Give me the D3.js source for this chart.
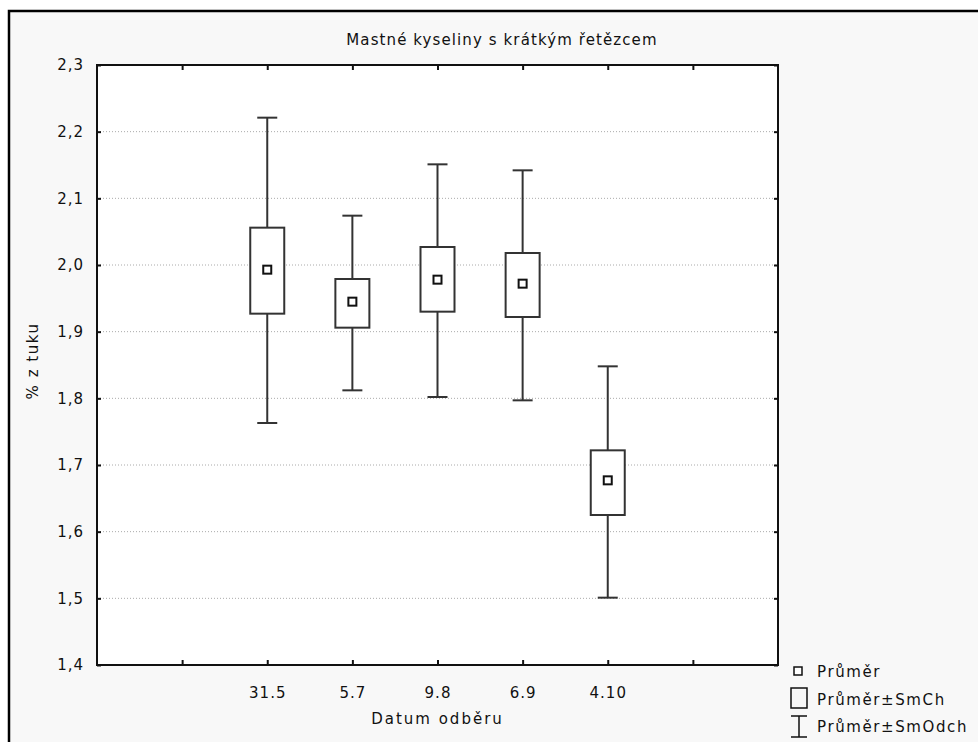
<!DOCTYPE html>
<html>
<head>
<meta charset="utf-8">
<script src="https://cdn.jsdelivr.net/npm/d3@7"></script>
<style>
  html, body { margin: 0; padding: 0; background: #fff; }
  text { font-family: "DejaVu Sans", sans-serif; fill: #111; }
</style>
</head>
<body>
<svg id="chart" width="978" height="742"></svg>
<script>
// Datum odberu (x categories)
const categories = ["31.5", "5.7", "9.8", "6.9", "4.10"];
// Prumer (mean)
const means = [1.993, 1.945, 1.978, 1.972, 1.677];
// Prumer ± SmCh (std. error box)
const seLow = [1.927, 1.906, 1.930, 1.922, 1.625];
const seHigh = [2.056, 1.979, 2.027, 2.018, 1.722];
// Prumer ± SmOdch (std. deviation whiskers)
const sdLow = [1.763, 1.812, 1.802, 1.797, 1.501];
const sdHigh = [2.221, 2.074, 2.151, 2.142, 1.848];
const yTicks = [1.4, 1.5, 1.6, 1.7, 1.8, 1.9, 2.0, 2.1, 2.2, 2.3];
const xTicks = [1, 2, 3, 4, 5, 6, 7];

const svg = d3.select('#chart');
const plot = { left: 97, right: 778, top: 65, bottom: 665 };

// outer frame
svg.append('rect')
  .attr('x', 9).attr('y', 11)
  .attr('width', 1000).attr('height', 800)
  .attr('fill', '#f8f8f8')
  .attr('stroke', '#000')
  .attr('stroke-width', 2.5);

const x = d3.scaleLinear().domain([0, 8]).range([plot.left, plot.right]);
const y = d3.scaleLinear().domain([1.4, 2.3]).range([plot.bottom, plot.top]);

const fmt = v => d3.format('.1f')(v).replace('.', ',');
const catLabel = v => categories[v - 2] || '';

// plot background
svg.append('rect')
  .attr('x', plot.left).attr('y', plot.top)
  .attr('width', plot.right - plot.left).attr('height', plot.bottom - plot.top)
  .attr('fill', '#fff');

// grid lines
svg.append('g')
  .selectAll('line')
  .data(yTicks.slice(1, -1))
  .join('line')
  .attr('x1', plot.left).attr('x2', plot.right)
  .attr('y1', d => y(d)).attr('y2', d => y(d))
  .attr('stroke', '#aaa')
  .attr('stroke-width', 1)
  .attr('stroke-dasharray', '1,2');

// axes (ticks pointing inwards)
const axisStyle = g => {
  g.select('.domain').remove();
  g.selectAll('.tick line').attr('stroke', '#111').attr('stroke-width', 2);
  g.selectAll('.tick text')
    .style('font-size', '15px')
    .style('letter-spacing', '1px')
    .attr('fill', '#111');
};

svg.append('g')
  .attr('transform', `translate(0,${plot.bottom})`)
  .call(d3.axisBottom(x).tickValues(xTicks).tickFormat(catLabel).tickSizeInner(-5).tickSizeOuter(0).tickPadding(22))
  .call(axisStyle);

svg.append('g')
  .attr('transform', `translate(0,${plot.top})`)
  .call(d3.axisTop(x).tickValues(xTicks).tickFormat('').tickSizeInner(-5).tickSizeOuter(0))
  .call(axisStyle);

svg.append('g')
  .attr('transform', `translate(${plot.left},0)`)
  .call(d3.axisLeft(y).tickValues(yTicks).tickFormat(fmt).tickSizeInner(-4).tickSizeOuter(0).tickPadding(13))
  .call(axisStyle);

svg.append('g')
  .attr('transform', `translate(${plot.right},0)`)
  .call(d3.axisRight(y).tickValues(yTicks).tickFormat('').tickSizeInner(-4).tickSizeOuter(0))
  .call(axisStyle);

// plot border
svg.append('rect')
  .attr('x', plot.left).attr('y', plot.top)
  .attr('width', plot.right - plot.left).attr('height', plot.bottom - plot.top)
  .attr('fill', 'none')
  .attr('stroke', '#111')
  .attr('stroke-width', 2);

// box-whisker marks
const rows = categories.map((c, i) => ({
  c, pos: i + 2, mean: means[i],
  lo: seLow[i], hi: seHigh[i], min: sdLow[i], max: sdHigh[i]
}));

const boxW = 34, capW = 20, markW = 8;
const stroke = '#333';
const grp = svg.append('g').selectAll('g').data(rows).join('g');

grp.append('line')
  .attr('x1', d => x(d.pos)).attr('x2', d => x(d.pos))
  .attr('y1', d => y(d.max)).attr('y2', d => y(d.hi))
  .attr('stroke', stroke).attr('stroke-width', 2);
grp.append('line')
  .attr('x1', d => x(d.pos)).attr('x2', d => x(d.pos))
  .attr('y1', d => y(d.lo)).attr('y2', d => y(d.min))
  .attr('stroke', stroke).attr('stroke-width', 2);
grp.append('line')
  .attr('x1', d => x(d.pos) - capW / 2).attr('x2', d => x(d.pos) + capW / 2)
  .attr('y1', d => y(d.max)).attr('y2', d => y(d.max))
  .attr('stroke', stroke).attr('stroke-width', 2);
grp.append('line')
  .attr('x1', d => x(d.pos) - capW / 2).attr('x2', d => x(d.pos) + capW / 2)
  .attr('y1', d => y(d.min)).attr('y2', d => y(d.min))
  .attr('stroke', stroke).attr('stroke-width', 2);
grp.append('rect')
  .attr('x', d => x(d.pos) - boxW / 2)
  .attr('y', d => y(d.hi))
  .attr('width', boxW)
  .attr('height', d => y(d.lo) - y(d.hi))
  .attr('fill', '#fff')
  .attr('stroke', stroke).attr('stroke-width', 2);
grp.append('rect')
  .attr('x', d => x(d.pos) - markW / 2)
  .attr('y', d => y(d.mean) - markW / 2)
  .attr('width', markW).attr('height', markW)
  .attr('fill', '#fff')
  .attr('stroke', '#111').attr('stroke-width', 2);

// titles
svg.append('text')
  .attr('x', 502).attr('y', 45)
  .attr('text-anchor', 'middle')
  .style('font-size', '15px')
  .style('letter-spacing', '1.1px')
  .text('Mastné kyseliny s krátkým řetězcem');

svg.append('text')
  .attr('x', (plot.left + plot.right) / 2).attr('y', 724)
  .attr('text-anchor', 'middle')
  .style('font-size', '15px')
  .style('letter-spacing', '2px')
  .text('Datum odběru');

svg.append('text')
  .attr('transform', `translate(38,${(plot.top + plot.bottom) / 2 - 4}) rotate(-90)`)
  .attr('text-anchor', 'middle')
  .style('font-size', '15px')
  .style('letter-spacing', '1.5px')
  .text('% z tuku');

// legend
const lg = svg.append('g');
const lx = 791;
lg.append('rect').attr('x', lx + 3).attr('y', 667).attr('width', 8).attr('height', 8)
  .attr('fill', '#fff').attr('stroke', '#111').attr('stroke-width', 1.5);
lg.append('rect').attr('x', lx).attr('y', 688).attr('width', 16).attr('height', 20)
  .attr('fill', 'none').attr('stroke', '#111').attr('stroke-width', 1.5);
lg.append('path').attr('d', `M${lx},716H${lx + 16}M${lx + 8},716V737M${lx},737H${lx + 16}`)
  .attr('fill', 'none').attr('stroke', '#111').attr('stroke-width', 1.5);
const legendLabels = ['Průměr', 'Průměr±SmCh', 'Průměr±SmOdch'];
const legendY = [677, 705, 732];
lg.selectAll('text.lab')
  .data(legendLabels)
  .join('text')
  .attr('class', 'lab')
  .attr('x', 817)
  .attr('y', (d, i) => legendY[i])
  .style('font-size', '15px')
  .style('letter-spacing', '1.6px')
  .text(d => d);
</script>
</body>
</html>
